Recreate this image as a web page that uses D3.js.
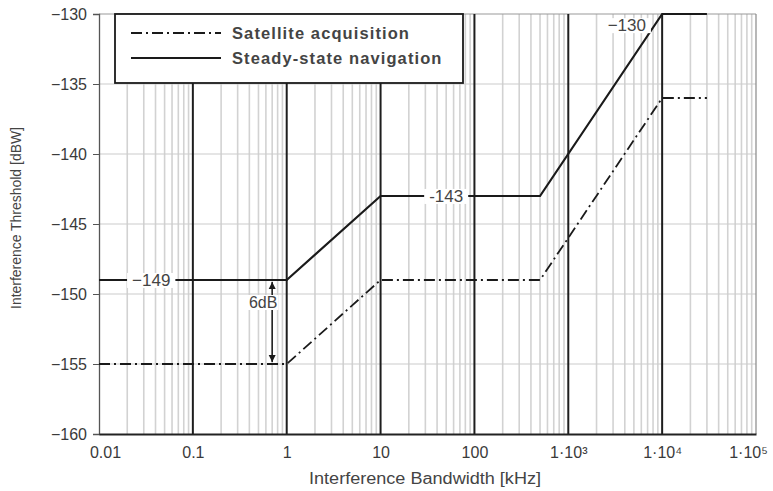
<!DOCTYPE html>
<html>
<head>
<meta charset="utf-8">
<script src="https://cdn.jsdelivr.net/npm/d3@7"></script>
<style>
  body { margin: 0; background: #fff; }
  svg { font-family: "Liberation Sans", Arial, sans-serif; }
</style>
</head>
<body>
<div id="chart"></div>
<script>
const width = 773;
const height = 491;
const margin = { top: 14, right: 17, bottom: 57, left: 99 };

// corner points of the two threshold masks
const bandwidth = [0.01, 1, 10, 500, 1e4, 3e4];
const navThreshold = [-149, -149, -143, -143, -130, -130];
const acqThreshold = [-155, -155, -149, -149, -136, -136];

const yTicks = [-160, -155, -150, -145, -140, -135, -130];
const xDecades = [0.01, 0.1, 1, 10, 100, 1e3, 1e4, 1e5];
const xTickLabels = ["0.01", "0.1", "1", "10", "100", "1·10³", "1·10⁴", "1·10⁵"];

// value labels on the lines
const valueLabels = [
    { x: 0.036, y: -149, text: "−149" },
    { x: 50, y: -143, text: "-143" },
    { x: 4200, y: -130.8, text: "−130" }
];

const svg = d3.select("#chart").append("svg")
    .attr("width", width)
    .attr("height", height);

const x = d3.scaleLog()
    .domain([0.01, 1e5])
    .range([margin.left, width - margin.right]);

const y = d3.scaleLinear()
    .domain([-160, -130])
    .range([height - margin.bottom, margin.top]);

// minor vertical grid
const minor = [];
for (let e = -2; e < 5; e++) {
    for (let m = 2; m <= 9; m++) minor.push(m * Math.pow(10, e));
}
svg.append("g").selectAll("line")
    .data(minor)
    .join("line")
    .attr("x1", d => x(d)).attr("x2", d => x(d))
    .attr("y1", y(-130)).attr("y2", y(-160))
    .attr("stroke", "#d2d2d2")
    .attr("stroke-width", 1.6);

// horizontal grid
svg.append("g").selectAll("line")
    .data(yTicks.slice(1))
    .join("line")
    .attr("x1", x(0.01)).attr("x2", x(1e5))
    .attr("y1", d => y(d)).attr("y2", d => y(d))
    .attr("stroke", d => d === -130 ? "#999" : "#cbcbcb")
    .attr("stroke-width", 1.2);

// decade lines
svg.append("g").selectAll("line")
    .data(xDecades.slice(1, -1))
    .join("line")
    .attr("x1", d => x(d)).attr("x2", d => x(d))
    .attr("y1", y(-130)).attr("y2", y(-160))
    .attr("stroke", "#1e1e1e")
    .attr("stroke-width", 2);

// right border
svg.append("line")
    .attr("x1", x(1e5)).attr("x2", x(1e5))
    .attr("y1", y(-130)).attr("y2", y(-160))
    .attr("stroke", "#888")
    .attr("stroke-width", 1.2);

// axes
const yAxis = svg.append("g")
    .attr("transform", `translate(${margin.left},0)`)
    .call(d3.axisLeft(y).tickValues(yTicks).tickSize(6).tickFormat(d => String(d).replace("-", "−")));
yAxis.select(".domain").attr("stroke", "#555").attr("stroke-width", 1.3);
yAxis.selectAll(".tick line").attr("stroke", "#555");
yAxis.selectAll("text")
    .attr("font-size", 16)
    .attr("fill", "#3a3a3a")
    .attr("dx", -3);

const xAxis = svg.append("g")
    .attr("transform", `translate(0,${height - margin.bottom})`)
    .call(d3.axisBottom(x).tickValues(xDecades).tickSize(0).tickPadding(13)
        .tickFormat((d, i) => xTickLabels[i]));
xAxis.select(".domain").attr("stroke", "#222").attr("stroke-width", 2);
xAxis.selectAll("text")
    .attr("font-size", 16)
    .attr("fill", "#3a3a3a")
    .attr("dx", (d, i) => i === 0 ? 6 : (i === xDecades.length - 1 ? -8 : 0));

// axis titles
svg.append("text")
    .attr("x", 425)
    .attr("y", 484)
    .attr("text-anchor", "middle")
    .attr("font-size", 16)
    .attr("textLength", 232)
    .attr("lengthAdjust", "spacingAndGlyphs")
    .attr("fill", "#444")
    .text("Interference Bandwidth [kHz]");

svg.append("text")
    .attr("transform", "translate(21,218) rotate(-90)")
    .attr("text-anchor", "middle")
    .attr("font-size", 14.5)
    .attr("textLength", 182)
    .attr("lengthAdjust", "spacingAndGlyphs")
    .attr("fill", "#444")
    .text("Interference Threshold [dBW]");

// threshold lines
const line = d3.line()
    .x((d, i) => x(bandwidth[i]))
    .y(d => y(d));

const dashDot = "11,4,2,4";

svg.append("path")
    .datum(acqThreshold)
    .attr("d", line)
    .attr("fill", "none")
    .attr("stroke", "#1a1a1a")
    .attr("stroke-width", 1.8)
    .attr("stroke-dasharray", dashDot);

svg.append("path")
    .datum(navThreshold)
    .attr("d", line)
    .attr("fill", "none")
    .attr("stroke", "#1a1a1a")
    .attr("stroke-width", 2.2);

// value labels with white background
valueLabels.forEach(l => {
    const g = svg.append("g");
    const t = g.append("text")
        .attr("x", x(l.x))
        .attr("y", y(l.y))
        .attr("dy", "0.35em")
        .attr("text-anchor", "middle")
        .attr("font-size", 17)
        .attr("fill", "#444")
        .text(l.text);
    const b = t.node().getBBox();
    g.insert("rect", "text")
        .attr("x", b.x - 5).attr("y", b.y + 2)
        .attr("width", b.width + 10).attr("height", b.height - 4)
        .attr("fill", "#fff");
});

// 6 dB arrow
const arrowX = x(0.7);
const defs = svg.append("defs");
defs.append("marker")
    .attr("id", "arrow")
    .attr("viewBox", "0 0 10 10")
    .attr("refX", 10).attr("refY", 5)
    .attr("markerWidth", 7).attr("markerHeight", 9)
    .attr("markerUnits", "userSpaceOnUse")
    .attr("orient", "auto")
    .append("path")
    .attr("d", "M0,0 L10,5 L0,10 Z")
    .attr("fill", "#1a1a1a");

svg.append("line")
    .attr("x1", arrowX).attr("x2", arrowX)
    .attr("y1", y(-151)).attr("y2", y(-149) + 2)
    .attr("stroke", "#1a1a1a").attr("stroke-width", 1.5)
    .attr("marker-end", "url(#arrow)");
svg.append("line")
    .attr("x1", arrowX).attr("x2", arrowX)
    .attr("y1", y(-151)).attr("y2", y(-155) - 2)
    .attr("stroke", "#1a1a1a").attr("stroke-width", 1.5)
    .attr("marker-end", "url(#arrow)");

const dbG = svg.append("g");
const dbText = dbG.append("text")
    .attr("x", arrowX - 9)
    .attr("y", y(-150.6))
    .attr("dy", "0.35em")
    .attr("text-anchor", "middle")
    .attr("font-size", 16)
    .attr("fill", "#444")
    .text("6dB");
const db = dbText.node().getBBox();
dbG.insert("rect", "text")
    .attr("x", db.x - 1).attr("y", db.y + 1)
    .attr("width", db.width + 2).attr("height", db.height - 2)
    .attr("fill", "#fff");

// legend
const legend = svg.append("g");
legend.append("rect")
    .attr("x", 115).attr("y", y(-130))
    .attr("width", 348).attr("height", y(-135) - y(-130) - 1)
    .attr("fill", "#fff")
    .attr("stroke", "#1a1a1a")
    .attr("stroke-width", 1.8);

const legendItems = [
    { label: "Satellite acquisition", dash: dashDot, yPos: 33 },
    { label: "Steady-state navigation", dash: null, yPos: 58 }
];
legendItems.forEach(d => {
    legend.append("line")
        .attr("x1", 131).attr("x2", 221)
        .attr("y1", d.yPos).attr("y2", d.yPos)
        .attr("stroke", "#1a1a1a")
        .attr("stroke-width", 2)
        .attr("stroke-dasharray", d.dash);
    legend.append("text")
        .attr("x", 232).attr("y", d.yPos)
        .attr("dy", "0.35em")
        .attr("font-size", 16.5)
        .attr("font-weight", "bold")
        .attr("letter-spacing", 1.1)
        .attr("fill", "#444")
        .text(d.label);
});
</script>
</body>
</html>
